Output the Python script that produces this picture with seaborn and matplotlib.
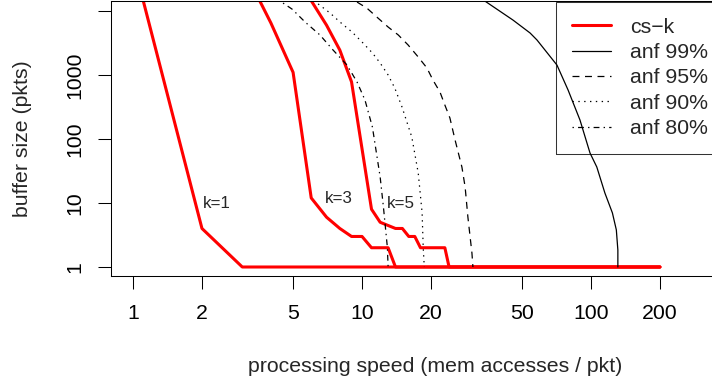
import matplotlib
matplotlib.use("Agg")
import matplotlib.pyplot as plt
import seaborn as sns
import pandas as pd
from matplotlib.lines import Line2D
from matplotlib.ticker import NullLocator, FixedLocator

sns.set_style("ticks")
plt.rcParams['font.family'] = ['Liberation Sans', 'DejaVu Sans']
plt.rcParams['lines.scale_dashes'] = False
plt.rcParams['xtick.major.size'] = 9.4
plt.rcParams['ytick.major.size'] = 9.4
plt.rcParams['xtick.major.width'] = 0.75
plt.rcParams['ytick.major.width'] = 0.75
plt.rcParams['xtick.major.pad'] = 10.5
plt.rcParams['ytick.major.pad'] = 13.0
plt.rcParams['xtick.direction'] = 'out'
plt.rcParams['ytick.direction'] = 'out'

# ---------------- data ----------------
k1_x = [1, 2, 3, 200]
k1_y = [60000, 4, 1, 1]
k3_x = [3, 4, 5, 6, 7, 8, 9, 10, 11, 13, 14, 200]
k3_y = [50000, 6500, 1100, 12, 6, 4, 3, 3, 2, 2, 1, 1]
k5_x = [6, 7, 8, 9, 11, 12, 14, 15, 16, 17, 18, 23, 24, 200]
k5_y = [14500, 6000, 2450, 780, 8, 5, 4, 4, 3, 3, 2, 2, 1, 1]

anf99_x = [34.4, 45.6, 54.2, 58.1, 71.0, 79.4, 89.5, 99.0, 106, 115, 124, 129, 131, 131]
anf99_y = [14300, 7230, 4530, 3520, 1430, 583, 198, 60.4, 36.5, 14.3, 7.0, 3.8, 1.84, 1]
anf95_x = [9.51, 10.5, 11.6, 13.0, 14.4, 15.9, 17.6, 19.2, 20.4, 21.9, 23.0, 24.2,
           25.5, 27.3, 28.2, 29.0, 30.2, 30.5]
anf95_y = [13800, 11100, 8060, 5620, 4220, 2940, 1910, 1290, 835, 542, 340, 213,
           96, 36.5, 17.8, 6.0, 1.65, 1]
anf90_x = [6.43, 7.25, 8.01, 9.04, 10.0, 11.1, 12.0, 13.0, 13.9, 14.95, 16.5, 17.6,
           18.3, 18.5, 18.7]
anf90_y = [12900, 9300, 6730, 4700, 3280, 2210, 1540, 1000, 626, 316, 107, 29.4,
           7.0, 2.05, 1]
anf80_x = [4.52, 4.95, 5.64, 6.55, 7.47, 8.60, 9.51, 10.3, 11.1, 12.0, 12.4, 12.9, 13.0]
anf80_y = [13300, 10700, 6730, 4220, 2460, 1430, 778, 407, 154, 25.5, 8.7, 2.05, 1]

x_ticks = [1, 2, 5, 10, 20, 50, 100, 200]
x_tick_labels = ["1", "2", "5", "10", "20", "50", "100", "200"]
y_ticks = [1, 10, 100, 1000, 10000]
y_tick_labels = ["1", "10", "100", "1000", ""]

legend_labels = ["cs\u2212k", "anf 99%", "anf 95%", "anf 90%", "anf 80%"]
k_labels = ["k=1", "k=3", "k=5"]
k_label_x = [2.32, 7.9, 14.8]
k_label_y = [10, 11.7, 10]

# ---------------- figure ----------------
FS = 15.3
FS_K = 12.2
W, H = 712, 385
fig = plt.figure(figsize=(W / 100, H / 100), dpi=100)
left_px, right_px, top_px, bot_px = 111, 760, 1, 276
ax_w_px = right_px - left_px
ax_h_px = bot_px - top_px
ax = fig.add_axes([left_px / W, (H - bot_px) / H, ax_w_px / W, ax_h_px / H])

red = "#ff0000"
lw_red = 2.2
lw_blk = 0.9
ls_solid = "-"
ls_dash = (0, (5.0, 4.0))
ls_dot = (0, (1.0, 3.2))
ls_dashdot = (0, (1.0, 3.0, 4.2, 3.0))

for xs, ys in [(k1_x, k1_y), (k3_x, k3_y), (k5_x, k5_y)]:
    sns.lineplot(x=xs, y=ys, ax=ax, color=red, linewidth=lw_red,
                 estimator=None, sort=False)

for xs, ys, ls in [(anf99_x, anf99_y, ls_solid), (anf95_x, anf95_y, ls_dash),
                   (anf90_x, anf90_y, ls_dot), (anf80_x, anf80_y, ls_dashdot)]:
    sns.lineplot(x=xs, y=ys, ax=ax, color="black", linewidth=lw_blk,
                 linestyle=ls, estimator=None, sort=False)

ax.set_xscale("log")
ax.set_yscale("log")
ax.set_xlim(0.8013, 547)
ax.set_ylim(0.7234, 14330)

ax.xaxis.set_major_locator(FixedLocator(x_ticks))
ax.xaxis.set_minor_locator(NullLocator())
ax.yaxis.set_major_locator(FixedLocator(y_ticks))
ax.yaxis.set_minor_locator(NullLocator())

ax.tick_params(axis="both", which="major", direction="out", length=9.4,
               width=0.75, color="black", labelcolor="black",
               bottom=True, left=True, top=False, right=False)
ax.tick_params(axis="x", pad=10.5)
ax.tick_params(axis="y", pad=13.0)

ax.set_xticklabels(x_tick_labels, fontsize=FS)
ax.set_yticklabels(y_tick_labels, fontsize=FS)
for lab in ax.get_yticklabels():
    lab.set_rotation(90)
    lab.set_rotation_mode("anchor")
    lab.set_horizontalalignment("center")
    lab.set_verticalalignment("baseline")

for sp in ax.spines.values():
    sp.set_color("black")
    sp.set_linewidth(0.75)
    sp.set_visible(True)

ax.set_xlabel("processing speed (mem accesses / pkt)", fontsize=FS)
ax.set_ylabel("buffer size (pkts)", fontsize=FS)
ax.xaxis.set_label_coords(0.5, (bot_px - 367) / ax_h_px)
ax.xaxis.label.set_va("center")
ax.yaxis.set_label_coords((23 - left_px) / ax_w_px, 0.5)
ax.yaxis.label.set_va("center")

for t, tx, ty in zip(k_labels, k_label_x, k_label_y):
    ax.text(tx, ty, t, fontsize=FS_K, ha="center", va="center")

handles = [
    Line2D([], [], color=red, lw=lw_red),
    Line2D([], [], color="black", lw=lw_blk, ls=ls_solid),
    Line2D([], [], color="black", lw=lw_blk, ls=ls_dash),
    Line2D([], [], color="black", lw=lw_blk, ls=ls_dot),
    Line2D([], [], color="black", lw=lw_blk, ls=ls_dashdot),
]
leg = fig.legend(handles, legend_labels, loc="lower left",
                 bbox_to_anchor=(556 / W, (H - 154) / H), fontsize=FS,
                 frameon=True, fancybox=False, borderpad=0.75,
                 handlelength=1.84, handletextpad=0.9, labelspacing=0.3,
                 borderaxespad=0.0)
fr = leg.get_frame()
fr.set_edgecolor("black")
fr.set_facecolor("none")
fr.set_linewidth(0.75)

fig.savefig("out.png", dpi=100)
